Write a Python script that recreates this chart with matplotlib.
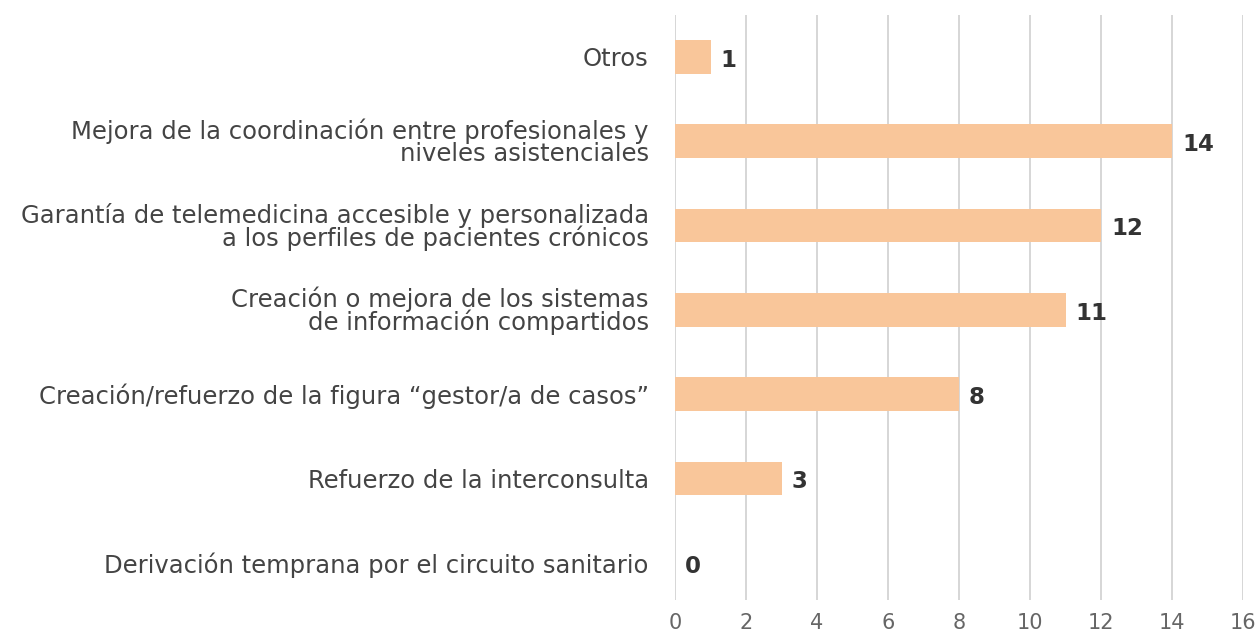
import matplotlib
matplotlib.use('Agg')
import matplotlib.pyplot as plt

categories = [
    'Derivación temprana por el circuito sanitario',
    'Refuerzo de la interconsulta',
    'Creación/refuerzo de la figura “gestor/a de casos”',
    'Creación o mejora de los sistemas\nde información compartidos',
    'Garantía de telemedicina accesible y personalizada\na los perfiles de pacientes crónicos',
    'Mejora de la coordinación entre profesionales y\nniveles asistenciales',
    'Otros',
]
values = [0, 3, 8, 11, 12, 14, 1]
xticks = [0, 2, 4, 6, 8, 10, 12, 14, 16]

plt.rcParams['font.family'] = ['DejaVu Sans']

fig = plt.figure(figsize=(12.58, 6.37), dpi=100)
ax = fig.add_axes([0.5366, 0.058, 0.4515, 0.918])

pos = list(range(len(categories)))
ax.barh(pos, values, height=0.4, color='#F9C69A', zorder=2)
for p, v in zip(pos, values):
    ax.text(v + 0.28, p - 0.04, str(v), va='center', ha='left',
            fontsize=16.5, fontweight='bold', color='#333333')

ax.set_xlim(0, 16)
ax.set_ylim(-0.44, 6.49)
ax.set_xticks(xticks)
ax.set_xticklabels([str(t) for t in xticks], fontsize=15, color='#666666')
ax.set_yticks(pos)
ax.set_yticklabels(categories, fontsize=17.5, color='#444444', linespacing=0.88)
ax.tick_params(axis='x', length=0, pad=9)
ax.tick_params(axis='y', length=0, pad=19)
ax.grid(axis='x', color='#CCCCCC', linewidth=1.1, zorder=0)
for s in ax.spines.values():
    s.set_visible(False)

fig.savefig('out.png', dpi=100)
